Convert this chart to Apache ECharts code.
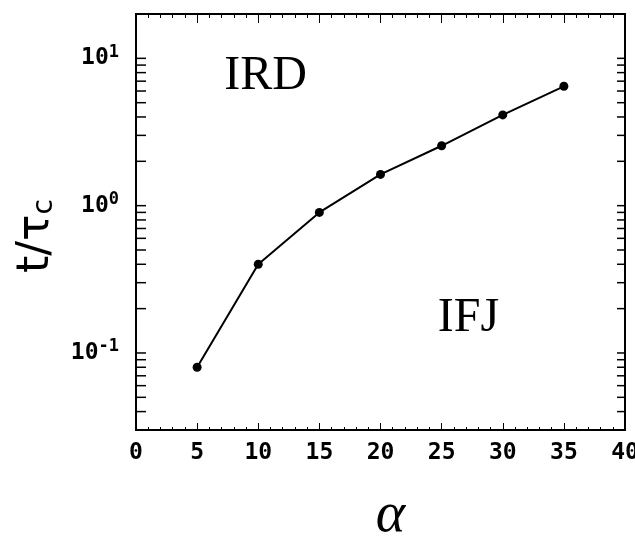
<!DOCTYPE html>
<html>
<head>
<meta charset="utf-8">
<script src="https://cdn.jsdelivr.net/npm/echarts@6/dist/echarts.min.js"></script>
<style>html,body{margin:0;padding:0;background:#fff;overflow:hidden}#c{width:635px;height:536px}</style>
</head>
<body>
<div id="c"></div>
<script>
// Data
const alphaValues = [5, 10, 15, 20, 25, 30, 35];
const tOverTau = [0.08, 0.40, 0.90, 1.63, 2.55, 4.13, 6.46];
// y-axis minor/major tick values (log axis)
const yTickValues = [0.04, 0.05, 0.06, 0.07, 0.08, 0.09,
  0.1, 0.2, 0.3, 0.4, 0.5, 0.6, 0.7, 0.8, 0.9,
  1, 2, 3, 4, 5, 6, 7, 8, 9, 10];
const annotations = [
  {text: 'IRD', x: 10.6, y: 7.6},
  {text: 'IFJ', x: 27.2, y: 0.172}
];

const chart = echarts.init(document.getElementById('c'), null, {renderer: 'canvas'});
const mono = 'DejaVu Sans Mono';

const option = {
  backgroundColor: '#fff',
  animation: false,
  grid: {left: 136, right: 10, top: 14, bottom: 106, show: true, outerBoundsMode: 'none', containLabel: false,
         borderColor: '#000', borderWidth: 2, backgroundColor: 'transparent'},
  xAxis: [{
    type: 'value', min: 0, max: 40, interval: 5, position: 'bottom',
    axisLine: {show: true, lineStyle: {color: '#000', width: 2}},
    axisTick: {show: true, inside: true, length: 7, lineStyle: {color: '#000', width: 1}},
    minorTick: {show: true, splitNumber: 5, length: 3, lineStyle: {color: '#000', width: 1}},
    splitLine: {show: false},
    axisLabel: {color: '#000', fontFamily: mono, fontSize: 23, fontWeight: 'bold', margin: 12},
    name: 'α', nameLocation: 'middle', nameGap: 58,
    nameTextStyle: {fontFamily: 'Liberation Serif', fontStyle: 'italic', fontSize: 56, color: '#000', padding: [0, 0, 0, 20]}
  }, {
    type: 'value', min: 0, max: 40, interval: 5, position: 'top',
    axisLine: {show: true, lineStyle: {color: '#000', width: 2}},
    axisTick: {show: true, inside: true, length: 9, lineStyle: {color: '#000', width: 1}},
    minorTick: {show: true, splitNumber: 5, length: 4, lineStyle: {color: '#000', width: 1}},
    splitLine: {show: false},
    axisLabel: {show: false}
  }],
  yAxis: [{
    type: 'log', logBase: 10, min: 0.03, max: 20,
    axisLine: {show: true, lineStyle: {color: '#000', width: 2}},
    axisTick: {show: false},
    splitLine: {show: false},
    axisLabel: {
      color: '#000', margin: 17,
      formatter: function (v) {
        const e = Math.log10(v);
        const r = Math.round(e);
        if (Math.abs(e - r) > 1e-6) return '';
        return '{b|10}{s|' + (r < 0 ? '-' + (-r) : r) + '}';
      },
      rich: {
        b: {fontFamily: mono, fontSize: 23, fontWeight: 'bold', color: '#000'},
        s: {fontFamily: mono, fontSize: 17, fontWeight: 'bold', color: '#000', padding: [0, 0, 12, 0]}
      }
    },
    name: '{t|t/τ}{c|c}', nameLocation: 'middle', nameGap: 77,
    nameTextStyle: {
      padding: [0, 28, 0, 0],
      rich: {
        t: {fontFamily: 'DejaVu Sans', fontSize: 44, color: '#000'},
        c: {fontFamily: 'DejaVu Sans', fontSize: 28, color: '#000', padding: [16, 0, 0, 0]}
      }
    }
  }],
  series: [{
    type: 'line',
    data: alphaValues.map((a, i) => [a, tOverTau[i]]),
    symbol: 'circle', symbolSize: 9,
    itemStyle: {color: '#000'},
    lineStyle: {color: '#000', width: 2},
    z: 5
  }, {
    type: 'custom', silent: true,
    data: yTickValues.map(v => [0, v]),
    encode: {x: 0, y: 1},
    renderItem: function (params, api) {
      const p = api.coord([0, api.value(1)]);
      const cs = params.coordSys;
      return {type: 'group', children: [
        {type: 'line', shape: {x1: cs.x, y1: p[1], x2: cs.x + 10, y2: p[1]}, style: {stroke: '#000', lineWidth: 1.5}},
        {type: 'line', shape: {x1: cs.x + cs.width, y1: p[1], x2: cs.x + cs.width - 8, y2: p[1]}, style: {stroke: '#000', lineWidth: 1.5}}
      ]};
    },
    z: 3
  }, {
    type: 'scatter', silent: true,
    data: annotations.map(a => ({value: [a.x, a.y], name: a.text})),
    symbolSize: 0,
    label: {show: true, position: 'inside', formatter: p => p.name,
            fontFamily: 'Liberation Serif', fontSize: 48, color: '#000',
            textBorderWidth: 0, opacity: 1},
    z: 4
  }]
};
chart.setOption(option);
</script>
</body>
</html>
